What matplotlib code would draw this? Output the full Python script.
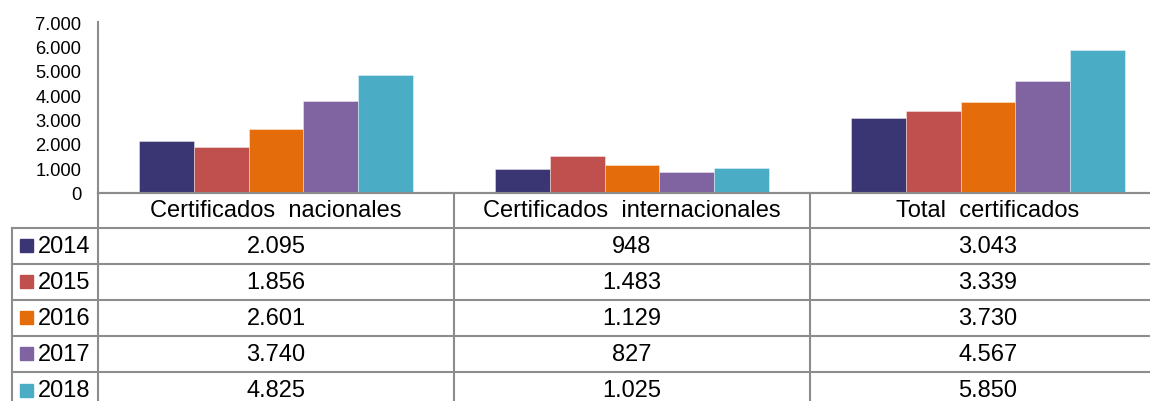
import matplotlib
matplotlib.use("Agg")
import matplotlib.pyplot as plt
import matplotlib.transforms as mtransforms
from matplotlib.patches import Rectangle
import numpy as np

plt.rcParams['font.family'] = ['Liberation Sans', 'DejaVu Sans']

categories = ["Certificados  nacionales", "Certificados  internacionales", "Total  certificados"]
years = ["2014", "2015", "2016", "2017", "2018"]
v2014 = [2095, 948, 3043]
v2015 = [1856, 1483, 3339]
v2016 = [2601, 1129, 3730]
v2017 = [3740, 827, 4567]
v2018 = [4825, 1025, 5850]
series = [v2014, v2015, v2016, v2017, v2018]
colors = ["#3A3674", "#C0504D", "#E46C0A", "#8064A2", "#4BACC6"]
yticks = [0, 1000, 2000, 3000, 4000, 5000, 6000, 7000]

def fmt(v):
    return f"{v:,.0f}".replace(",", ".")

W, H = 1150, 402
fig = plt.figure(figsize=(W / 100, H / 100), dpi=100)

# pixel overlay for table geometry
ov = fig.add_axes([0, 0, 1, 1])
ov.set_xlim(0, W)
ov.set_ylim(H, 0)
ov.axis("off")
ov.set_zorder(0)

x_left, x_right = 98, 1166
y_top, y_base = 23, 193.5
ax = fig.add_axes([x_left / W, (H - y_base) / H, (x_right - x_left) / W, (y_base - y_top) / H])
ax.set_zorder(1)
ax.patch.set_alpha(0)

n = len(series)
x = np.arange(len(categories)) + 0.5
group_w = 0.77
bw = group_w / n
for i, (vals, c) in enumerate(zip(series, colors)):
    ax.bar(x - group_w / 2 + bw * (i + 0.5), vals, width=bw, color=c,
           edgecolor=(1, 1, 1, 0.45), linewidth=0.6, label=years[i])

ax.set_xlim(0, len(categories))
ax.set_ylim(0, 7000)
ax.set_yticks(yticks)
ax.set_yticklabels([fmt(t) for t in yticks], fontsize=13.2)
ax.tick_params(axis="y", length=0, pad=12)
ax.set_xticks([])
for s in ["top", "right"]:
    ax.spines[s].set_visible(False)
gray = "#8c8c8c"
ax.spines["left"].set_color(gray)
ax.spines["left"].set_linewidth(1.5)
ax.spines["bottom"].set_color(gray)
ax.spines["bottom"].set_linewidth(1.5)

# table
blend = mtransforms.blended_transform_factory(ax.transData, ov.transData)
row_lines = [228.5, 264.5, 300.7, 336.8, 373.0]
row_h = 36.2
lw = 1.5
ov.plot([x_left, W], [194, 194], color=gray, lw=lw)
for yl in row_lines:
    ov.plot([12, W], [yl, yl], color=gray, lw=lw)
ov.plot([12, 12], [row_lines[0], H], color=gray, lw=lw)
ov.plot([x_left, x_left], [194, H], color=gray, lw=lw)
for k in range(1, len(categories)):
    ov.plot([k, k], [194, H], color=gray, lw=lw, transform=blend)

for k, cat in enumerate(categories):
    ov.text(x[k], 211, cat, ha="center", va="center", fontsize=17, transform=blend)

for i, (vals, c) in enumerate(zip(series, colors)):
    yc = row_lines[i] + row_h / 2
    ov.add_patch(Rectangle((20, yc - 6.5), 13, 13, color=c))
    ov.text(37.5, yc, years[i], ha="left", va="center", fontsize=17)
    for k, v in enumerate(vals):
        ov.text(x[k], yc, fmt(v), ha="center", va="center", fontsize=17, transform=blend)

fig.savefig("out.png", dpi=100)
